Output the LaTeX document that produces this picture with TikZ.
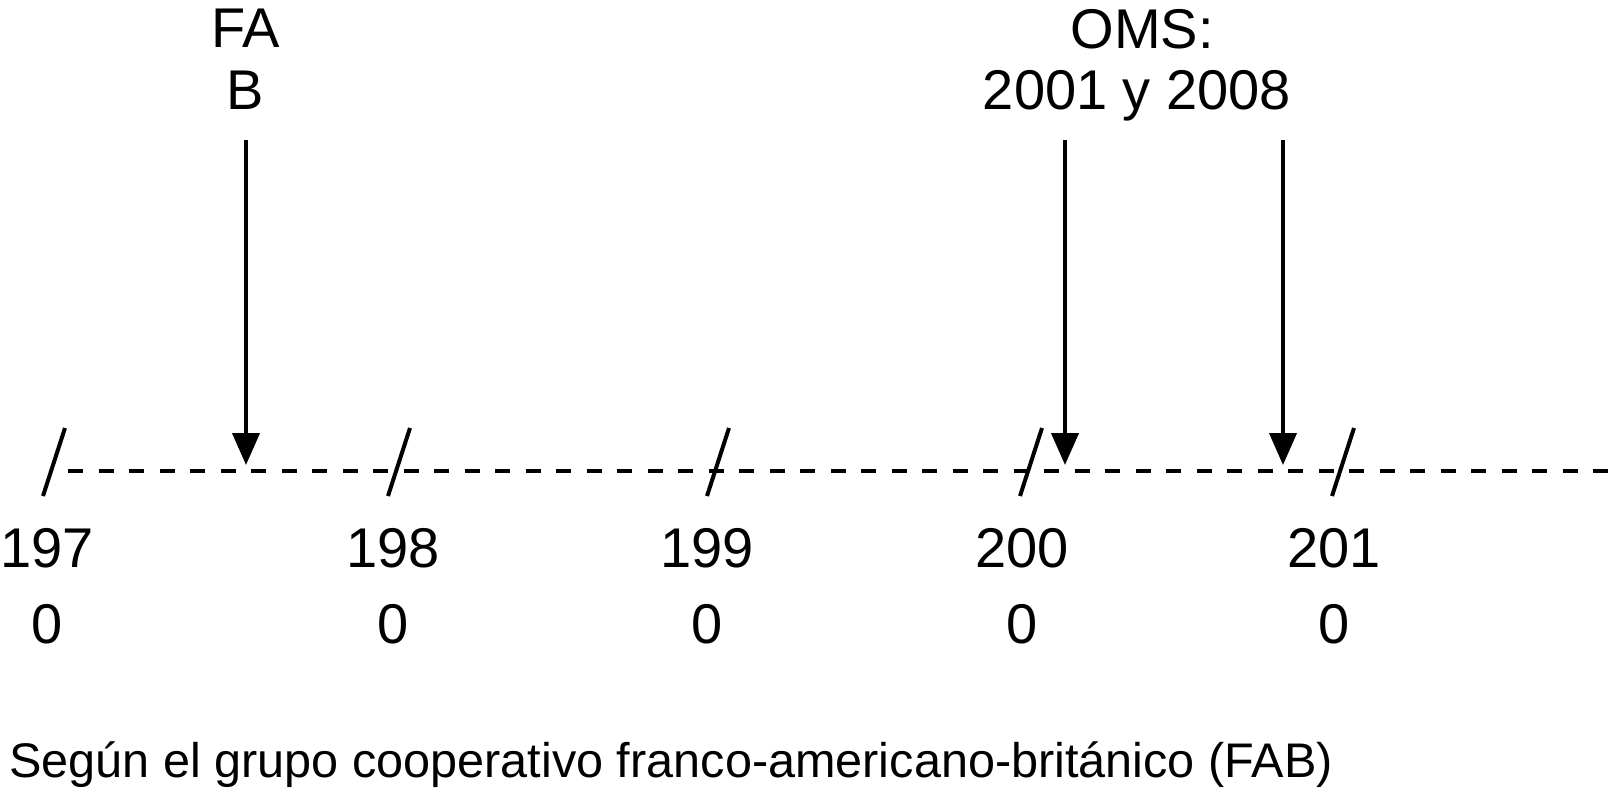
\documentclass[tikz,border=0pt]{standalone}
\usepackage{fontspec}
\setmainfont{Liberation Sans}
\usetikzlibrary{arrows.meta}
\begin{document}
\begin{tikzpicture}[x=1pt,y=-1pt,
  lbl/.style={inner sep=0pt,anchor=base,font=\fontsize{56}{60}\selectfont},
  caption/.style={inner sep=0pt,anchor=base west,font=\fontsize{48.6}{54}\selectfont},
  tick/.style={line width=4pt},
  axis/.style={line width=4.5pt,dash pattern=on 15pt off 15.5pt},
  evarrow/.style={line width=4pt,-{Triangle[length=32pt,width=27pt]}}]
\useasboundingbox (0,0) rectangle (1622,793);
% axis
\coordinate (axL) at (68,471);
\coordinate (axR) at (1622,471);
\draw[axis] (axL) -- (axR);
% slashes
\foreach \x/\n in {54/a,399/b,718/c,1031/d,1343/e}{
  \coordinate (t\n1) at (\x+11,428);
  \coordinate (t\n2) at (\x-11,496);
  \draw[tick] (t\n1) -- (t\n2);
}
% year labels
\node[lbl] (y1) at (47,567) {197};
\node[lbl] (z1) at (47,643) {0};
\node[lbl] (y2) at (393,567) {198};
\node[lbl] (z2) at (393,643) {0};
\node[lbl] (y3) at (707,567) {199};
\node[lbl] (z3) at (707,643) {0};
\node[lbl] (y4) at (1022,567) {200};
\node[lbl] (z4) at (1022,643) {0};
\node[lbl] (y5) at (1334,567) {201};
\node[lbl] (z5) at (1334,643) {0};
% top labels
\node[lbl] (fa) at (246,47) {FA};
\node[lbl] (fb) at (245,109) {B};
\node[lbl] (oms) at (1142,48) {OMS:};
\node[lbl] (omsy) at (1137,109) {2001 y 2008};
% arrows
\coordinate (a1s) at (246,140);
\coordinate (a1e) at (246,465);
\coordinate (a2s) at (1065,140);
\coordinate (a2e) at (1065,465);
\coordinate (a3s) at (1283,140);
\coordinate (a3e) at (1283,465);
\draw[evarrow] (a1s) -- (a1e);
\draw[evarrow] (a2s) -- (a2e);
\draw[evarrow] (a3s) -- (a3e);
% caption
\node[caption] (cap) at (9,777) {Según el grupo cooperativo franco-americano-británico (FAB)};
\end{tikzpicture}
\end{document}
